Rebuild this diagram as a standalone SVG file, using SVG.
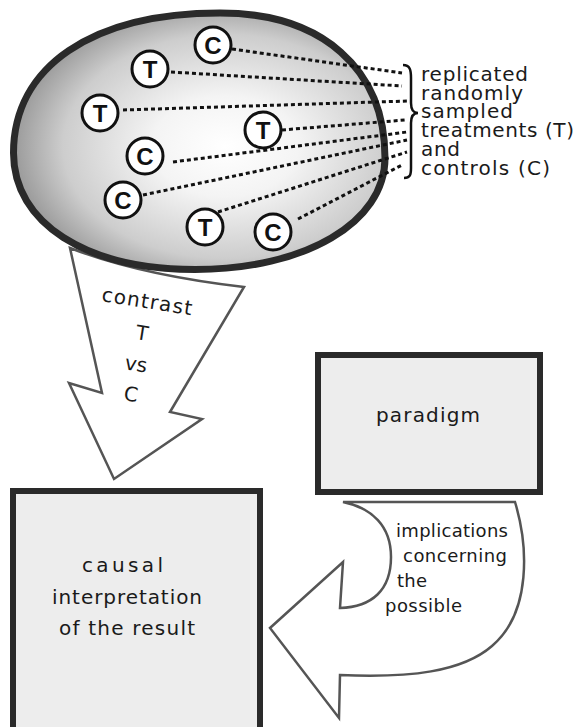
<svg xmlns="http://www.w3.org/2000/svg" width="576" height="727" viewBox="0 0 576 727">
<defs>
<radialGradient id="egg" cx="0.57" cy="0.52" r="0.56">
<stop offset="0" stop-color="#ffffff"/>
<stop offset="0.35" stop-color="#f4f4f4"/>
<stop offset="0.78" stop-color="#cdcdcd"/>
<stop offset="1" stop-color="#9e9e9e"/>
</radialGradient>
<style>
.lbl{font-family:"DejaVu Sans","Liberation Sans",sans-serif;font-size:20px;fill:#1a1a1a}
.sm{font-size:18px}
.mid{text-anchor:middle}
.unit{fill:#fff;stroke:#111;stroke-width:3}
.ut{font-family:"Liberation Sans",Arial,sans-serif;font-weight:bold;font-size:24px;fill:#111;text-anchor:middle}
.dot{stroke:#111;stroke-width:3;stroke-dasharray:4 3;fill:none}
.box{fill:#ededed;stroke:#2a2a2a;stroke-width:6}
.arr{fill:#fff;stroke:#555;stroke-width:2.5;stroke-linejoin:miter}
</style>
</defs>
<rect width="576" height="727" fill="#fff"/>

<g id="connectors">
<g id="arrow-contrast">
<path class="arr" d="M70,248 L102,393 L69,383 L114,479 L202,419 L170,412 L244,287 Q140,275 70,248 Z"/>
</g>
</g>

<g id="population">
<path d="M220,13 C322,13 385,68.7 385,158 C385,222.7 305,269.5 195,269.5 C86,269.5 13.5,223 13.5,153 C13.5,66.8 92,13 220,13 Z" fill="url(#egg)" stroke="#2a2a2a" stroke-width="7"/>
</g>

<g id="connectors-dotted">
<line class="dot" x1="232" y1="49" x2="402" y2="73"/>
<line class="dot" x1="171" y1="72" x2="402" y2="86"/>
<line class="dot" x1="123" y1="110" x2="408" y2="101"/>
<line class="dot" x1="282" y1="130" x2="405" y2="120"/>
<line class="dot" x1="173" y1="162" x2="407" y2="132"/>
<line class="dot" x1="143" y1="195" x2="407" y2="140"/>
<line class="dot" x1="218" y1="212" x2="407" y2="152"/>
<line class="dot" x1="298" y1="219" x2="402" y2="165"/>
</g>

<g id="units">
<g id="c1"><circle class="unit" cx="213" cy="45" r="18"/><text class="ut" x="213" y="53.6">C</text></g>
<g id="t1"><circle class="unit" cx="150" cy="69" r="18"/><text class="ut" x="150" y="77.6">T</text></g>
<g id="t2"><circle class="unit" cx="100" cy="113" r="18"/><text class="ut" x="100" y="121.6">T</text></g>
<g id="t3"><circle class="unit" cx="263" cy="130" r="18"/><text class="ut" x="263" y="138.6">T</text></g>
<g id="c2"><circle class="unit" cx="145" cy="156" r="18"/><text class="ut" x="145" y="164.6">C</text></g>
<g id="c3"><circle class="unit" cx="123" cy="200" r="18"/><text class="ut" x="123" y="208.6">C</text></g>
<g id="t4"><circle class="unit" cx="205" cy="227" r="18"/><text class="ut" x="205" y="235.6">T</text></g>
<g id="c4"><circle class="unit" cx="273" cy="232" r="18"/><text class="ut" x="273" y="240.6">C</text></g>
</g>

<g id="legend">
<path d="M403,65 C410,65 411,70 411,78 L411,103 C411,110 413,113 418,113 C413,113 411,116 411,123 L411,168 C411,175 410,178 404,178" fill="none" stroke="#111" stroke-width="2.5"/>
<text class="lbl" x="421" y="81" textLength="107" lengthAdjust="spacing">replicated</text>
<text class="lbl" x="421" y="99.5" textLength="102" lengthAdjust="spacing">randomly</text>
<text class="lbl" x="421" y="118" textLength="92" lengthAdjust="spacing">sampled</text>
<text class="lbl" x="421" y="137" textLength="153" lengthAdjust="spacing">treatments (T)</text>
<text class="lbl" x="421" y="156" textLength="39" lengthAdjust="spacing">and</text>
<text class="lbl" x="421" y="174.5" textLength="129" lengthAdjust="spacing">controls (C)</text>
</g>

<g id="contrast-label">
<text class="lbl" x="101" y="301" textLength="91" lengthAdjust="spacing" transform="rotate(9 101 301)">contrast</text>
<text class="lbl" x="141" y="340" text-anchor="middle" transform="rotate(9 141 340)">T</text>
<text class="lbl" x="135" y="371" text-anchor="middle" transform="rotate(9 135 371)">vs</text>
<text class="lbl" x="130" y="401" text-anchor="middle" transform="rotate(9 130 401)">C</text>
</g>

<g id="paradigm">
<rect class="box" x="318" y="355" width="222" height="137"/>
<text class="lbl" x="376" y="422" textLength="104" lengthAdjust="spacing">paradigm</text>
</g>

<g id="causal">
<rect class="box" x="13" y="491" width="247" height="250"/>
<text class="lbl" x="82" y="572" textLength="81" lengthAdjust="spacing">causal</text>
<text class="lbl" x="52" y="604" textLength="150" lengthAdjust="spacing">interpretation</text>
<text class="lbl" x="59" y="635" textLength="136" lengthAdjust="spacing">of the result</text>
</g>

<g id="connectors-curved">
<path class="arr" d="M343,502 L515,502 C528,545 532,612 492,646 C462,672 410,678 340,675 L339,718 L270,628 L343,562 L340,608 C372,607 391,590 391,557 C391,526 372,508 343,502 Z"/>
<text class="lbl sm" x="396" y="537" textLength="112" lengthAdjust="spacing">implications</text>
<text class="lbl sm" x="403" y="562" textLength="104" lengthAdjust="spacing">concerning</text>
<text class="lbl sm" x="397" y="587" textLength="30" lengthAdjust="spacing">the</text>
<text class="lbl sm" x="385" y="612" textLength="77" lengthAdjust="spacing">possible</text>
</g>
</svg>
